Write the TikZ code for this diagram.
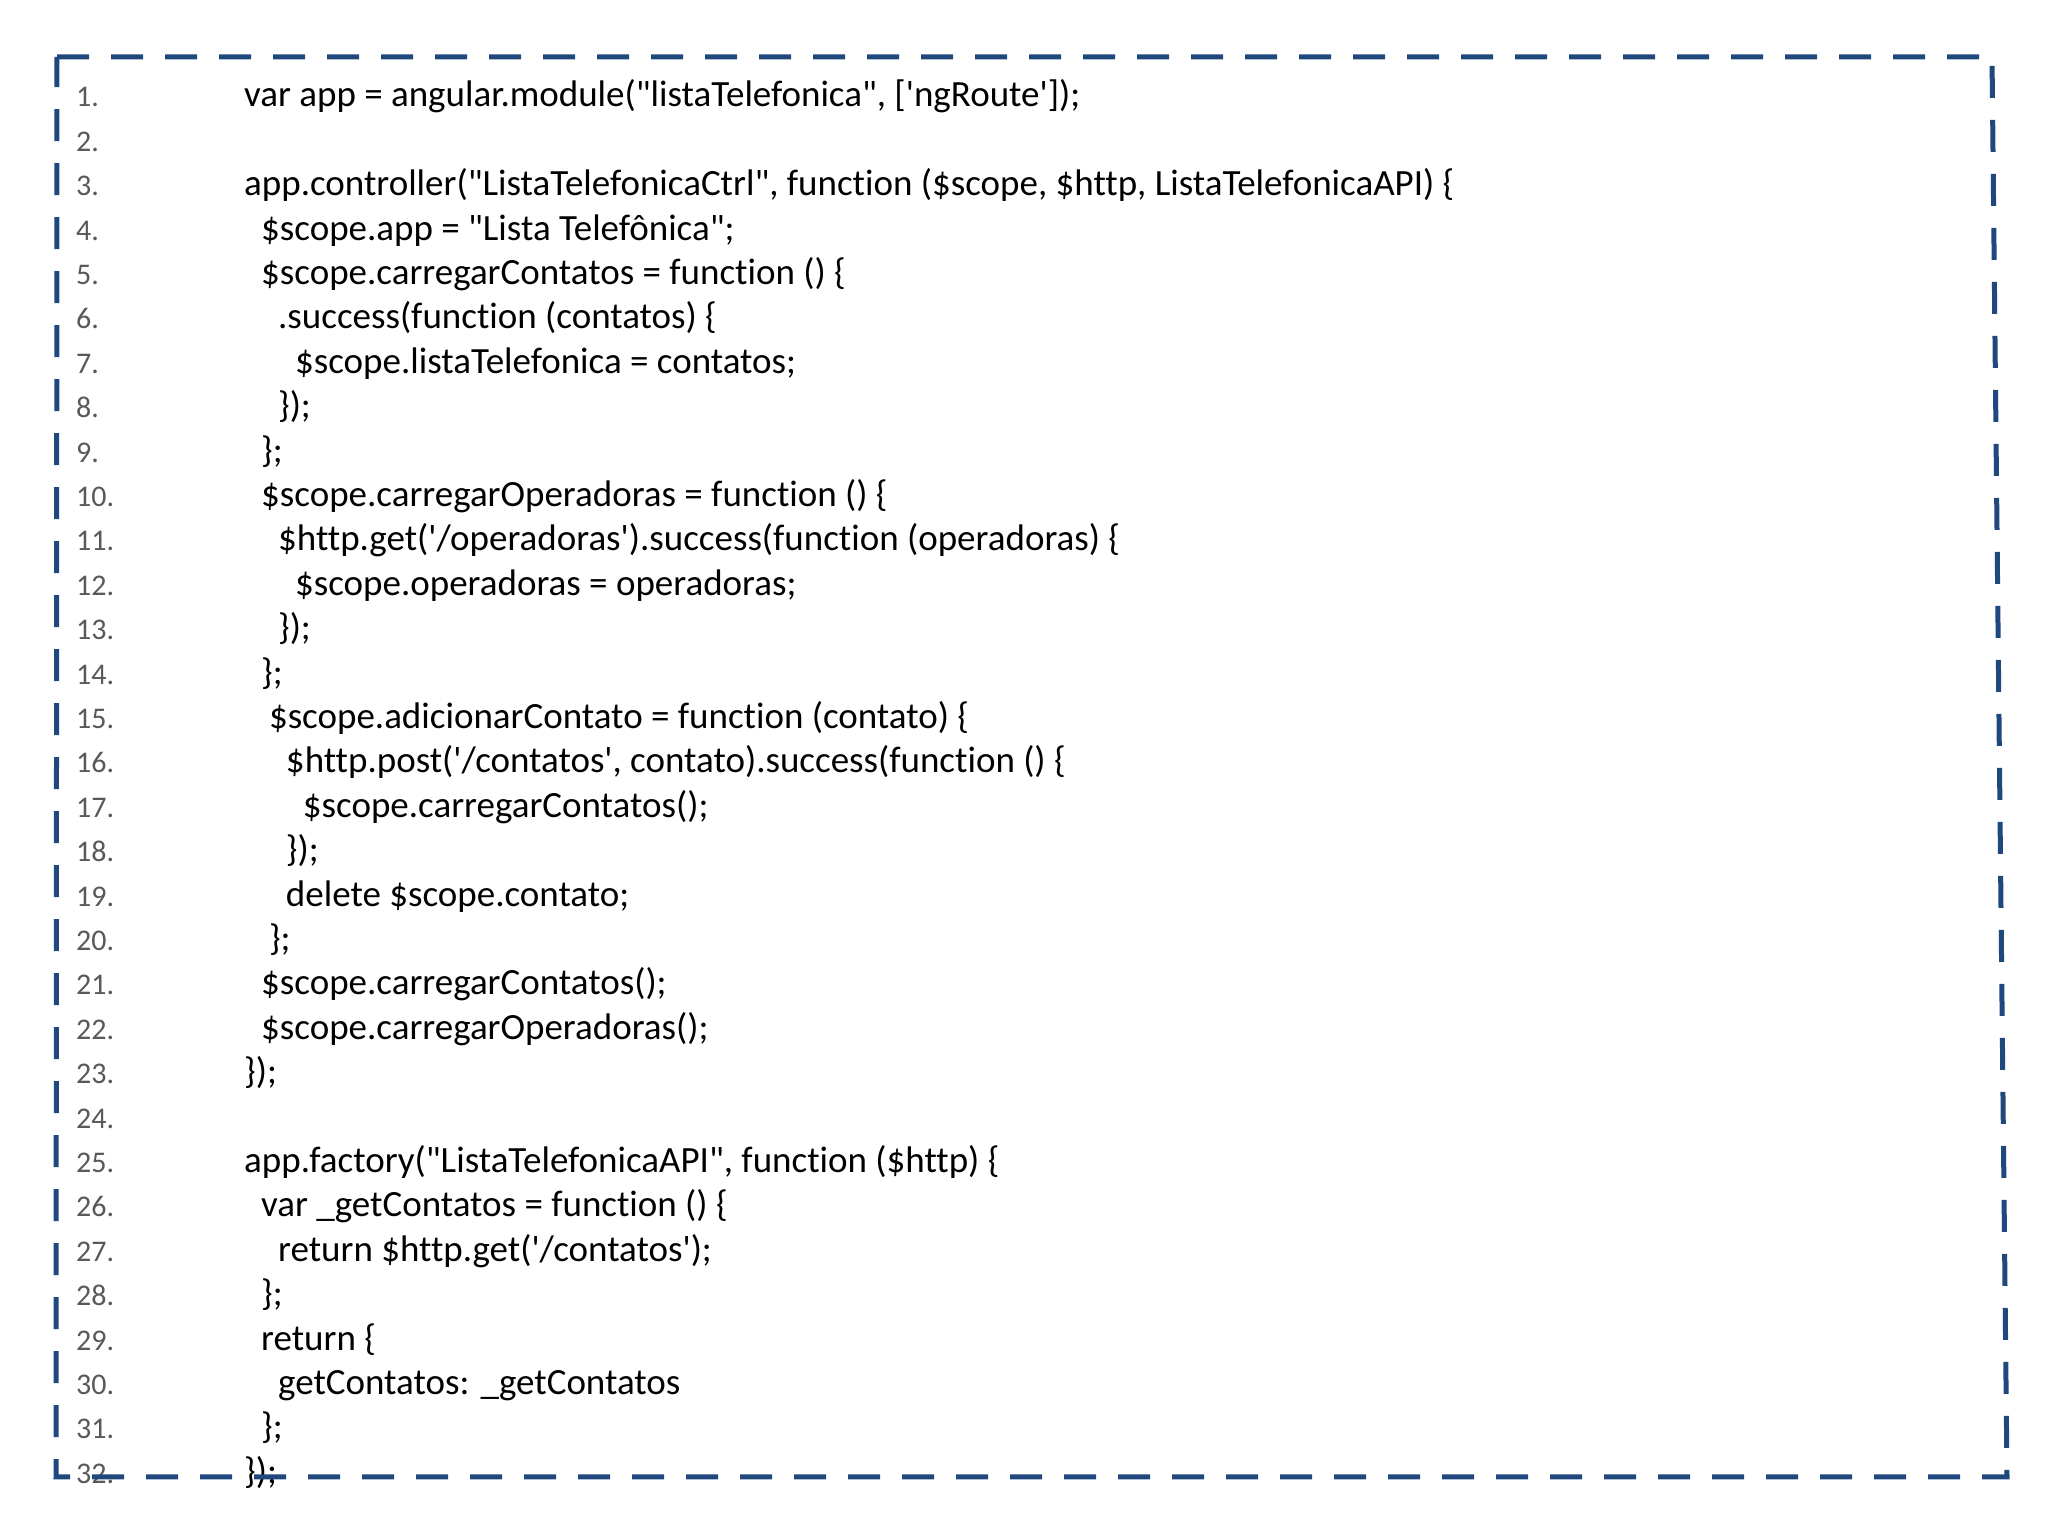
\documentclass[tikz,border=0pt]{standalone}
\usepackage{fontspec}
\newfontfamily\cf{Carlito}[Ligatures={TeXOff,NoCommon}]
\begin{document}
\begin{tikzpicture}[x=1pt,y=1pt,
  code/.style={anchor=base west,inner sep=0pt,font=\cf\fontsize{37}{40}\selectfont,text=black},
  num/.style={anchor=base west,inner sep=0pt,font=\cf\fontsize{30}{34}\selectfont,text=black!65},
  frame/.style={line width=5pt,dash pattern=on 32pt off 22pt}]
\useasboundingbox (0,0) rectangle (2048,1536);
\fill[white] (0,0) rectangle (2048,1536);
\colorlet{fc}{rgb,255:red,31;green,73;blue,125}
\def\L#1#2#3{\node[num] (n#1) at (76,{1536-107-(#1-1)*44.4}) {#1.};
  \node[code] (l#1) at ({244+#2*1.306},{1536-107-(#1-1)*44.4}) {#3};}
\L{1}{0}{var app = angular.module("listaTelefonica", ['ngRoute']);}
\L{2}{0}{}
\L{3}{0}{app.controller("ListaTelefonicaCtrl", function (\$scope, \$http, ListaTelefonicaAPI) \{}
\L{4}{13}{\$scope.app = "Lista Telefônica";}
\L{5}{13}{\$scope.carregarContatos = function () \{}
\L{6}{26}{.success(function (contatos) \{}
\L{7}{39}{\$scope.listaTelefonica = contatos;}
\L{8}{26}{\});}
\L{9}{13}{\};}
\L{10}{13}{\$scope.carregarOperadoras = function () \{}
\L{11}{26}{\$http.get('/operadoras').success(function (operadoras) \{}
\L{12}{39}{\$scope.operadoras = operadoras;}
\L{13}{26}{\});}
\L{14}{13}{\};}
\L{15}{19}{\$scope.adicionarContato = function (contato) \{}
\L{16}{32}{\$http.post('/contatos', contato).success(function () \{}
\L{17}{45}{\$scope.carregarContatos();}
\L{18}{32}{\});}
\L{19}{32}{delete \$scope.contato;}
\L{20}{19}{\};}
\L{21}{13}{\$scope.carregarContatos();}
\L{22}{13}{\$scope.carregarOperadoras();}
\L{23}{0}{\});}
\L{24}{0}{}
\L{25}{0}{app.factory("ListaTelefonicaAPI", function (\$http) \{}
\L{26}{13}{var \_getContatos = function () \{}
\L{27}{26}{return \$http.get('/contatos');}
\L{28}{13}{\};}
\L{29}{13}{return \{}
\L{30}{26}{getContatos: \_getContatos}
\L{31}{13}{\};}
\L{32}{0}{\});}
\coordinate (tl) at (57,1479);
\coordinate (tr) at (1992,1479);
\coordinate (br) at (2007,59);
\coordinate (bl) at (56,59);
\draw[frame,draw=fc] (tl) -- (tr) -- (br) -- (bl) -- cycle;
\end{tikzpicture}
\end{document}
